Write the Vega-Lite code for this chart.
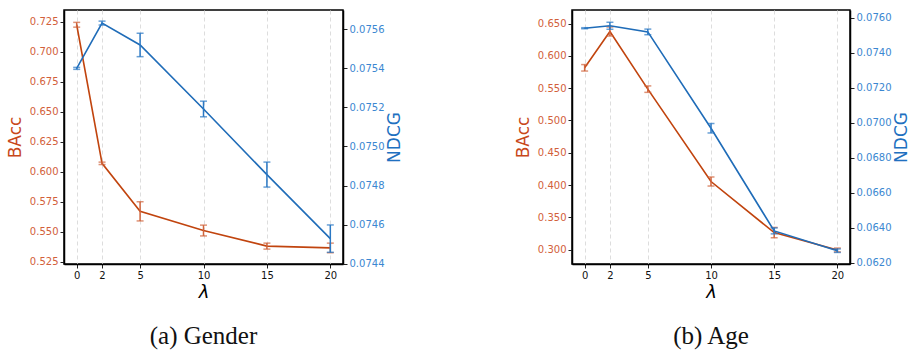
{
  "$schema": "https://vega.github.io/schema/vega-lite/v6.json",
  "padding": {"left": 5, "top": 9, "right": 0, "bottom": 0},
  "spacing": 109,
  "datasets": {
    "gender": [
      {"lam": 0, "bacc": 0.7225, "bacc_lo": 0.7205, "bacc_hi": 0.7245, "ndcg": 0.07540, "ndcg_lo": 0.075395, "ndcg_hi": 0.075405},
      {"lam": 2, "bacc": 0.607, "bacc_lo": 0.606, "bacc_hi": 0.608, "ndcg": 0.075632, "ndcg_lo": 0.075622, "ndcg_hi": 0.075642},
      {"lam": 5, "bacc": 0.567, "bacc_lo": 0.559, "bacc_hi": 0.575, "ndcg": 0.07552, "ndcg_lo": 0.07546, "ndcg_hi": 0.07558},
      {"lam": 10, "bacc": 0.551, "bacc_lo": 0.5465, "bacc_hi": 0.5555, "ndcg": 0.075192, "ndcg_lo": 0.075152, "ndcg_hi": 0.075232},
      {"lam": 15, "bacc": 0.538, "bacc_lo": 0.5355, "bacc_hi": 0.5405, "ndcg": 0.074856, "ndcg_lo": 0.074792, "ndcg_hi": 0.07492},
      {"lam": 20, "bacc": 0.5365, "bacc_lo": 0.5325, "bacc_hi": 0.5405, "ndcg": 0.074528, "ndcg_lo": 0.074458, "ndcg_hi": 0.074598}
    ],
    "age": [
      {"lam": 0, "bacc": 0.5815, "bacc_lo": 0.5765, "bacc_hi": 0.5865, "ndcg": 0.0754, "ndcg_lo": 0.07537, "ndcg_hi": 0.07543},
      {"lam": 2, "bacc": 0.6377, "bacc_lo": 0.6307, "bacc_hi": 0.6447, "ndcg": 0.07554, "ndcg_lo": 0.07534, "ndcg_hi": 0.07574},
      {"lam": 5, "bacc": 0.5485, "bacc_lo": 0.5435, "bacc_hi": 0.5535, "ndcg": 0.07519, "ndcg_lo": 0.07503, "ndcg_hi": 0.07535},
      {"lam": 10, "bacc": 0.4055, "bacc_lo": 0.3985, "bacc_hi": 0.4125, "ndcg": 0.06969, "ndcg_lo": 0.06942, "ndcg_hi": 0.06996},
      {"lam": 15, "bacc": 0.3264, "bacc_lo": 0.3184, "bacc_hi": 0.3344, "ndcg": 0.06383, "ndcg_lo": 0.06366, "ndcg_hi": 0.064},
      {"lam": 20, "bacc": 0.2995, "bacc_lo": 0.2965, "bacc_hi": 0.3025, "ndcg": 0.0627, "ndcg_lo": 0.0626, "ndcg_hi": 0.0628}
    ]
  },
  "hconcat": [
    {
      "width": 279,
      "height": 254,
      "title": {"text": "(a) Gender"},
      "data": {"name": "gender"},
      "encoding": {
        "x": {"field": "lam", "type": "quantitative", "scale": {"domain": [-1, 21], "nice": false, "zero": false},
          "axis": {"values": [0, 2, 5, 10, 15, 20], "title": "λ", "grid": true}}
      },
      "layer": [
        {
          "layer": [
            {"mark": {"type": "line", "color": "#c1440e", "strokeWidth": 1.6},
             "encoding": {"y": {"field": "bacc", "type": "quantitative", "scale": {"domain": [0.5231, 0.7348], "nice": false, "zero": false},
               "axis": {"orient": "left", "title": "BAcc", "values": [0.525, 0.55, 0.575, 0.6, 0.625, 0.65, 0.675, 0.7, 0.725], "format": ".3f", "labelColor": "#d2603a", "titleColor": "#c8481a"}}}},
            {"mark": {"type": "errorbar", "color": "#d0643c", "thickness": 1.5, "ticks": {"size": 7}},
             "encoding": {"y": {"field": "bacc_lo", "type": "quantitative", "scale": {"domain": [0.5231, 0.7348], "nice": false, "zero": false},
               "axis": {"orient": "left", "title": "BAcc", "values": [0.525, 0.55, 0.575, 0.6, 0.625, 0.65, 0.675, 0.7, 0.725], "format": ".3f", "labelColor": "#d2603a", "titleColor": "#c8481a"}},
               "y2": {"field": "bacc_hi"}}}
          ]
        },
        {
          "layer": [
            {"mark": {"type": "line", "color": "#1f6cb8", "strokeWidth": 1.6},
             "encoding": {"y": {"field": "ndcg", "type": "quantitative", "scale": {"domain": [0.074398, 0.075699], "nice": false, "zero": false},
               "axis": {"orient": "right", "title": "NDCG", "values": [0.0744, 0.0746, 0.0748, 0.075, 0.0752, 0.0754, 0.0756], "format": ".4f", "labelColor": "#3b87d1", "titleColor": "#2070c0"}}}},
            {"mark": {"type": "errorbar", "color": "#2a78c4", "thickness": 1.5, "ticks": {"size": 7}},
             "encoding": {"y": {"field": "ndcg_lo", "type": "quantitative", "scale": {"domain": [0.074398, 0.075699], "nice": false, "zero": false},
               "axis": {"orient": "right", "title": "NDCG", "values": [0.0744, 0.0746, 0.0748, 0.075, 0.0752, 0.0754, 0.0756], "format": ".4f", "labelColor": "#3b87d1", "titleColor": "#2070c0"}},
               "y2": {"field": "ndcg_hi"}}}
          ]
        }
      ],
      "resolve": {"scale": {"y": "independent"}}
    },
    {
      "width": 278,
      "height": 254,
      "title": {"text": "(b) Age"},
      "data": {"name": "age"},
      "encoding": {
        "x": {"field": "lam", "type": "quantitative", "scale": {"domain": [-1, 21], "nice": false, "zero": false},
          "axis": {"values": [0, 2, 5, 10, 15, 20], "title": "λ", "grid": true}}
      },
      "layer": [
        {
          "layer": [
            {"mark": {"type": "line", "color": "#c1440e", "strokeWidth": 1.6},
             "encoding": {"y": {"field": "bacc", "type": "quantitative", "scale": {"domain": [0.2778, 0.671], "nice": false, "zero": false},
               "axis": {"orient": "left", "title": "BAcc", "values": [0.3, 0.35, 0.4, 0.45, 0.5, 0.55, 0.6, 0.65], "format": ".3f", "labelColor": "#d2603a", "titleColor": "#c8481a"}}}},
            {"mark": {"type": "errorbar", "color": "#d0643c", "thickness": 1.5, "ticks": {"size": 7}},
             "encoding": {"y": {"field": "bacc_lo", "type": "quantitative", "scale": {"domain": [0.2778, 0.671], "nice": false, "zero": false},
               "axis": {"orient": "left", "title": "BAcc", "values": [0.3, 0.35, 0.4, 0.45, 0.5, 0.55, 0.6, 0.65], "format": ".3f", "labelColor": "#d2603a", "titleColor": "#c8481a"}},
               "y2": {"field": "bacc_hi"}}}
          ]
        },
        {
          "layer": [
            {"mark": {"type": "line", "color": "#1f6cb8", "strokeWidth": 1.6},
             "encoding": {"y": {"field": "ndcg", "type": "quantitative", "scale": {"domain": [0.06194, 0.07644], "nice": false, "zero": false},
               "axis": {"orient": "right", "title": "NDCG", "values": [0.062, 0.064, 0.066, 0.068, 0.07, 0.072, 0.074, 0.076], "format": ".4f", "labelColor": "#3b87d1", "titleColor": "#2070c0"}}}},
            {"mark": {"type": "errorbar", "color": "#2a78c4", "thickness": 1.5, "ticks": {"size": 7}},
             "encoding": {"y": {"field": "ndcg_lo", "type": "quantitative", "scale": {"domain": [0.06194, 0.07644], "nice": false, "zero": false},
               "axis": {"orient": "right", "title": "NDCG", "values": [0.062, 0.064, 0.066, 0.068, 0.07, 0.072, 0.074, 0.076], "format": ".4f", "labelColor": "#3b87d1", "titleColor": "#2070c0"}},
               "y2": {"field": "ndcg_hi"}}}
          ]
        }
      ],
      "resolve": {"scale": {"y": "independent"}}
    }
  ],
  "config": {
    "view": {"stroke": "#000", "strokeWidth": 1.5},
    "axis": {
      "labelFont": "DejaVu Sans", "labelFontSize": 10, "labelPadding": 2,
      "tickSize": 4, "tickColor": "#222", "domainColor": "#000", "domainWidth": 1.5,
      "titleFont": "DejaVu Sans", "titleFontWeight": "normal", "titleFontSize": 17, "titlePadding": 5,
      "grid": false
    },
    "axisRight": {"titleAngle": 270, "titleBaseline": "top", "titlePadding": 3},
    "axisX": {
      "labelColor": "#111", "titleFontStyle": "italic", "titleFontSize": 18, "titlePadding": 3, "titleColor": "#000",
      "gridColor": "#dddddd", "gridDash": [4, 3], "gridWidth": 1
    },
    "title": {"orient": "bottom", "anchor": "middle", "font": "Liberation Serif", "fontSize": 25, "fontWeight": "normal", "color": "#111", "offset": 23}
  }
}
